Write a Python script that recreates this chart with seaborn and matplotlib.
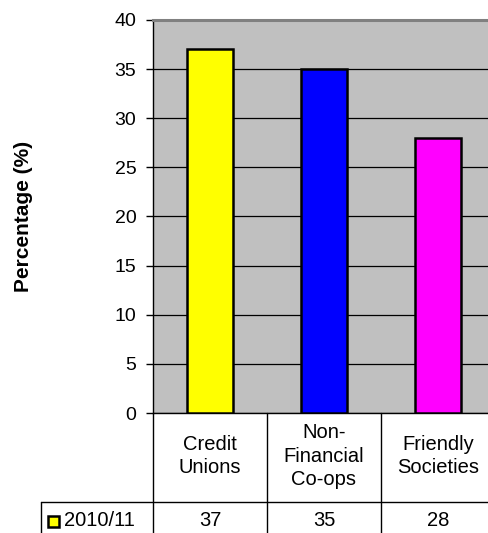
import matplotlib
matplotlib.use("Agg")
import matplotlib.pyplot as plt
import matplotlib.transforms as mtransforms
from matplotlib.lines import Line2D
from matplotlib.patches import Rectangle
import seaborn as sns
import pandas as pd

categories = ["Credit\nUnions", "Non-\nFinancial\nCo-ops", "Friendly\nSocieties"]
values = [37, 35, 28]
series_name = "2010/11"
bar_colors = ["#FFFF00", "#0000FF", "#FF00FF"]
yticks = [0, 5, 10, 15, 20, 25, 30, 35, 40]

sns.set_theme(style="white")
plt.rcParams["font.family"] = ["Liberation Sans", "DejaVu Sans"]

W, H = 489, 533
fig = plt.figure(figsize=(W / 100, H / 100), dpi=100)
ax = fig.add_axes([153 / W, 120 / H, 342 / W, 393 / H])
ax.set_facecolor("#C0C0C0")

df = pd.DataFrame({"category": categories, "value": values})
sns.barplot(data=df, x="category", y="value", hue="category",
            palette=bar_colors, saturation=1, width=0.41, edgecolor="black",
            linewidth=1.8, legend=False, ax=ax, zorder=3)

ax.set_xlim(-0.5, 2.5)
ax.set_ylim(0, 40)
ax.set_yticks(yticks)
ax.set_yticklabels([str(t) for t in yticks], fontsize=14, color="black")
ax.yaxis.grid(True, color="black", linewidth=0.9, zorder=0)
ax.set_axisbelow(True)
ax.tick_params(axis="y", which="major", direction="out", length=5,
               width=1, color="black", left=True, pad=7)
ax.set_xticks([])
ax.set_xlabel("")
ax.set_ylabel("Percentage (%)", fontsize=15, fontweight="bold", color="black")
ax.yaxis.set_label_coords((23 - 153) / 342, 0.5)
ax.yaxis.label.set_verticalalignment("center")

for side in ("left", "bottom"):
    ax.spines[side].set_color("black")
    ax.spines[side].set_linewidth(1)
ax.spines["top"].set_color("#808080")
ax.spines["top"].set_linewidth(2.2)
ax.spines["right"].set_visible(False)

# data table below the plot
trans = mtransforms.blended_transform_factory(ax.transData, fig.transFigure)
row_top = 120 / H
row_mid = 31 / H
for xb in [-0.5, 0.5, 1.5, 2.5]:
    fig.add_artist(Line2D([xb, xb], [0, row_top], transform=trans,
                          color="black", linewidth=1))
fig.add_artist(Line2D([41 / W, 1.0], [row_mid, row_mid],
                      transform=fig.transFigure, color="black", linewidth=1))
fig.add_artist(Line2D([41 / W, 41 / W], [0, row_mid],
                      transform=fig.transFigure, color="black", linewidth=1))

value_y = 12 / H
for i, (cat, val) in enumerate(zip(categories, values)):
    fig.text(i, 77 / H, cat, transform=trans,
             ha="center", va="center", fontsize=14.5, color="black",
             linespacing=1.3)
    fig.text(i, value_y, str(val), transform=trans,
             ha="center", va="center", fontsize=14.5, color="black")

fig.add_artist(Rectangle((48 / W, 6 / H), 11 / W, 11 / H,
                         transform=fig.transFigure, facecolor=bar_colors[0],
                         edgecolor="black", linewidth=1.8))
fig.text(64 / W, value_y, series_name, ha="left", va="center",
         fontsize=14.5, color="black")

fig.savefig("out.png", dpi=100)
